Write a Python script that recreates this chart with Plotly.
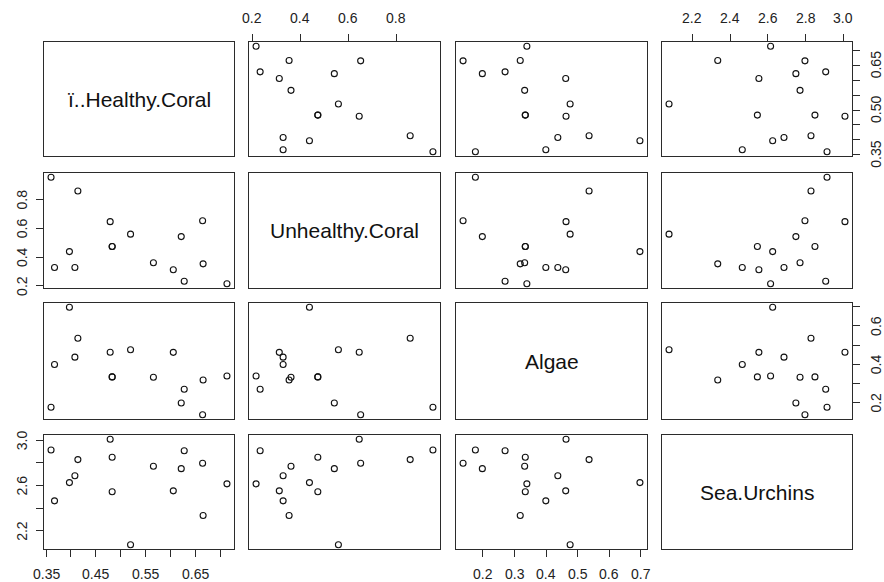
import plotly.graph_objects as go

# ---- data (16 observations) ----
names = ["ï..Healthy.Coral", "Unhealthy.Coral", "Algae", "Sea.Urchins"]
healthy   = [0.714, 0.666, 0.665, 0.622, 0.628, 0.606, 0.566, 0.520,
             0.483, 0.483, 0.479, 0.408, 0.414, 0.397, 0.367, 0.360]
unhealthy = [0.215, 0.353, 0.652, 0.542, 0.232, 0.312, 0.361, 0.559,
             0.473, 0.473, 0.646, 0.328, 0.859, 0.438, 0.328, 0.954]
algae     = [0.339, 0.318, 0.137, 0.198, 0.270, 0.462, 0.332, 0.476,
             0.334, 0.334, 0.463, 0.437, 0.536, 0.697, 0.399, 0.176]
urchins   = [2.615, 2.335, 2.797, 2.749, 2.907, 2.553, 2.771, 2.077,
             2.545, 2.850, 3.009, 2.686, 2.829, 2.626, 2.465, 2.914]

# tick values and the labels shown on the two alternating outer sides
healthy_ticks = [0.35, 0.40, 0.45, 0.50, 0.55, 0.60, 0.65, 0.70]
healthy_lab_x = ["0.35", "", "0.45", "", "0.55", "", "0.65", ""]
healthy_lab_y = ["0.35", "", "", "0.50", "", "", "0.65", ""]
unhealthy_ticks = [0.2, 0.4, 0.6, 0.8]
unhealthy_lab = ["0.2", "0.4", "0.6", "0.8"]
algae_ticks = [0.2, 0.3, 0.4, 0.5, 0.6, 0.7]
algae_lab_x = ["0.2", "0.3", "0.4", "0.5", "0.6", "0.7"]
algae_lab_y = ["0.2", "", "0.4", "", "0.6", ""]
urchin_ticks = [2.2, 2.4, 2.6, 2.8, 3.0]
urchin_lab_x = ["2.2", "2.4", "2.6", "2.8", "3.0"]
urchin_lab_y = ["2.2", "", "2.6", "", "3.0"]

data = [healthy, unhealthy, algae, urchins]
ticks = [healthy_ticks, unhealthy_ticks, algae_ticks, urchin_ticks]
labs_x = [healthy_lab_x, unhealthy_lab, algae_lab_x, urchin_lab_x]
labs_y = [healthy_lab_y, unhealthy_lab, algae_lab_y, urchin_lab_y]

W, H = 884, 582
col_px = [(44, 234), (249, 440), (456, 647), (662, 852)]
row_px = [(42, 156), (173, 288), (303, 419), (435, 549)]
LAB_BOTTOM_Y, LAB_TOP_Y = 574, 18      # centre of x tick labels (px)
LAB_LEFT_X, LAB_RIGHT_X = 22, 876      # centre of y tick labels (px)

FONT = "Arial, Liberation Sans, sans-serif"
LINE = "#2b2b2b"
TICKFONT = dict(family=FONT, size=14, color="#222222")

def lim(v):
    lo, hi = min(v), max(v)
    d = (hi - lo) * 0.04
    return [lo - d, hi + d]

fig = go.Figure()
layout = {}
annotations = []
n = len(data)
for i in range(n):
    for j in range(n):
        k = i * n + j + 1
        xa = "xaxis" if k == 1 else f"xaxis{k}"
        ya = "yaxis" if k == 1 else f"yaxis{k}"
        xr = "x" if k == 1 else f"x{k}"
        yr = "y" if k == 1 else f"y{k}"
        x0, x1 = col_px[j]
        y0, y1 = row_px[i]
        xax = dict(domain=[x0 / W, x1 / W], range=lim(data[j]), anchor=yr,
                   showgrid=False, zeroline=False, showline=True, mirror=True,
                   linecolor=LINE, linewidth=1, showticklabels=False, ticks="",
                   automargin=False)
        yax = dict(domain=[1 - y1 / H, 1 - y0 / H], range=lim(data[i]), anchor=xr,
                   showgrid=False, zeroline=False, showline=True, mirror=True,
                   linecolor=LINE, linewidth=1, showticklabels=False, ticks="",
                   automargin=False)
        tickstyle = dict(ticks="outside", ticklen=7, tickwidth=1, tickcolor=LINE,
                         showticklabels=False)
        # x axes: bottom for odd columns (row 4), top for even columns (row 1)
        if (j % 2 == 0 and i == n - 1) or (j % 2 == 1 and i == 0):
            bottom = j % 2 == 0
            xax.update(tickstyle)
            xax.update(tickvals=ticks[j], side="bottom" if bottom else "top")
            for tv, tt in zip(ticks[j], labs_x[j]):
                if tt:
                    annotations.append(dict(
                        text=tt, xref=xr, yref="paper", x=tv,
                        y=1 - (LAB_BOTTOM_Y if bottom else LAB_TOP_Y) / H,
                        showarrow=False, xanchor="center", yanchor="middle",
                        font=TICKFONT))
        # y axes: right for odd rows (col 4), left for even rows (col 1)
        if (i % 2 == 0 and j == n - 1) or (i % 2 == 1 and j == 0):
            right = i % 2 == 0
            yax.update(tickstyle)
            yax.update(tickvals=ticks[i], side="right" if right else "left")
            for tv, tt in zip(ticks[i], labs_y[i]):
                if tt:
                    annotations.append(dict(
                        text=tt, xref="paper", yref=yr, y=tv,
                        x=(LAB_RIGHT_X if right else LAB_LEFT_X) / W,
                        textangle=-90, showarrow=False,
                        xanchor="center", yanchor="middle", font=TICKFONT))
        layout[xa] = xax
        layout[ya] = yax
        if i == j:
            annotations.append(dict(text=names[i], xref="paper", yref="paper",
                                    x=(x0 + x1) / 2 / W, y=1 - (y0 + y1) / 2 / H,
                                    showarrow=False, xanchor="center", yanchor="middle",
                                    font=dict(family=FONT, size=21, color="#111111")))
            # invisible trace so the diagonal panel (and its box) is drawn
            fig.add_trace(go.Scatter(
                x=[sum(data[j]) / len(data[j])], y=[sum(data[i]) / len(data[i])],
                mode="markers", xaxis=xr, yaxis=yr, marker=dict(opacity=0),
                showlegend=False, hoverinfo="skip"))
        else:
            fig.add_trace(go.Scatter(
                x=data[j], y=data[i], mode="markers", xaxis=xr, yaxis=yr,
                marker=dict(symbol="circle-open", size=6, color="#111111",
                            line=dict(width=1.1, color="#111111")),
                showlegend=False, hoverinfo="skip"))

fig.update_layout(**layout)
fig.update_layout(width=W, height=H, margin=dict(l=0, r=0, t=0, b=0),
                  paper_bgcolor="white", plot_bgcolor="white",
                  annotations=annotations, showlegend=False)
fig.write_html("out.html")
